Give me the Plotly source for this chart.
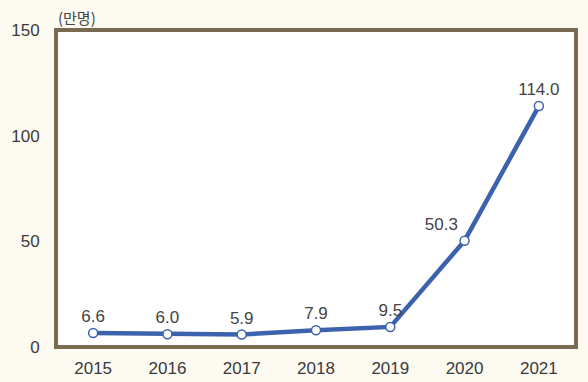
import plotly.graph_objects as go

years = ["2015", "2016", "2017", "2018", "2019", "2020", "2021"]
values = [6.6, 6.0, 5.9, 7.9, 9.5, 50.3, 114.0]
labels = ["6.6", "6.0", "5.9", "7.9", "9.5", "50.3", "114.0"]
label_pos = ["top center", "top center", "top center", "top center", "top center", "top left", "top center"]
y_ticks = [0, 50, 100, 150]

FONT = "Liberation Sans, Arial, Noto Sans CJK KR, sans-serif"

fig = go.Figure()
fig.add_trace(go.Scatter(
    x=years, y=values, mode="lines+markers+text",
    line=dict(color="#3d62ad", width=4.5),
    marker=dict(size=9, color="white", line=dict(color="#3d62ad", width=1.5)),
    text=labels, textposition=label_pos,
    textfont=dict(size=17, color="#444444", family=FONT),
    cliponaxis=False, showlegend=False, hoverinfo="skip",
))

fig.update_layout(
    width=588, height=382,
    margin=dict(l=56, r=12, t=30, b=35, autoexpand=False),
    paper_bgcolor="#fcfaf1", plot_bgcolor="white",
    font=dict(family=FONT, size=17, color="#3a3a3a"),
    xaxis=dict(type="category", range=[-0.5, 6.5], showgrid=False, zeroline=False,
               automargin=False,
               showline=False, ticks="outside", ticklen=6, tickcolor="rgba(0,0,0,0)",
               tickfont=dict(size=17, color="#3a3a3a")),
    yaxis=dict(range=[0, 150], tickvals=y_ticks, showgrid=False, zeroline=False,
               automargin=False,
               showline=False, ticks="outside", ticklen=12, tickcolor="rgba(0,0,0,0)",
               tickfont=dict(size=17, color="#3a3a3a")),
    shapes=[dict(type="rect", xref="paper", yref="paper", x0=0, x1=1, y0=0, y1=1,
                 line=dict(color="#7a6a4f", width=4), layer="above")],
    annotations=[dict(text="(만명)", xref="paper", yref="paper", x=0, y=1,
                      xanchor="left", yanchor="bottom", yshift=0, showarrow=False,
                      font=dict(size=15, color="#444444",
                                family="Noto Sans CJK KR, sans-serif"))],
)

fig.write_html(
    "out.html",
    config={"displayModeBar": False},
    post_script="document.body.style.margin='0';document.body.style.background='#fcfaf1';",
)
